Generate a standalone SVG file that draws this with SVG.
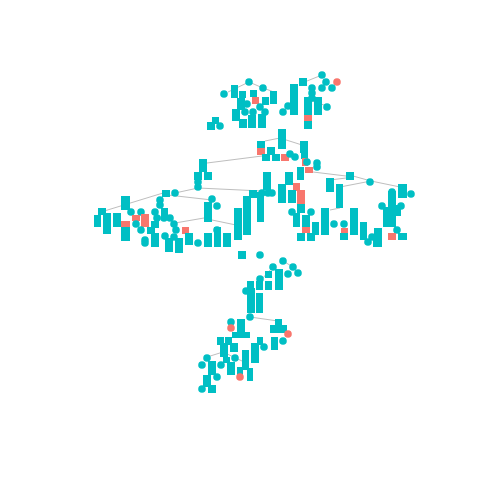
<svg xmlns="http://www.w3.org/2000/svg" width="480" height="480" viewBox="0 0 480 480">
<style>
.t{fill:#00BFC4}.s{fill:#F8766D}
#edges line{stroke:#BEBEBE;stroke-width:1}
</style>
<rect width="480" height="480" fill="#fff"/>
<g id="edges">
<line x1="228" y1="92" x2="249" y2="82"/><line x1="249" y1="82" x2="263" y2="88"/><line x1="263" y1="88" x2="274" y2="92"/>
<line x1="307" y1="81" x2="322" y2="75"/><line x1="312" y1="101" x2="327" y2="106"/>
<line x1="265" y1="141" x2="280" y2="138"/><line x1="280" y1="138" x2="302" y2="145"/>
<line x1="207" y1="163" x2="262" y2="156"/><line x1="198" y1="188" x2="262" y2="191"/><line x1="175" y1="193" x2="198" y2="188"/>
<line x1="168" y1="195" x2="212" y2="200"/><line x1="175" y1="223" x2="204" y2="218"/><line x1="212" y1="220" x2="236" y2="225"/>
<line x1="101" y1="212" x2="163" y2="193"/>
<line x1="313" y1="172" x2="346" y2="176"/><line x1="330" y1="180" x2="346" y2="178"/><line x1="353" y1="176" x2="371" y2="181"/>
<line x1="371" y1="181" x2="405" y2="188"/><line x1="340" y1="187" x2="371" y2="181"/><line x1="330" y1="210" x2="340" y2="208"/>
<line x1="260" y1="281" x2="273" y2="267"/><line x1="283" y1="261" x2="293" y2="267"/>
<line x1="250" y1="317" x2="278" y2="321"/><line x1="207" y1="357" x2="223" y2="352"/><line x1="223" y1="352" x2="242" y2="361"/>
</g>
<g id="nodes">
<g id="n1"><circle class="t" cx="249" cy="82" r="3.8"/></g>
<g id="n2"><circle class="t" cx="263" cy="88" r="3.8"/></g>
<g id="n3"><circle class="t" cx="224" cy="94" r="3.8"/></g>
<g id="n4"><rect class="t" x="231" y="85" width="7" height="13"/></g>
<g id="n5"><rect class="t" x="239" y="91" width="7" height="7"/></g>
<g id="n6"><rect class="t" x="237" y="98" width="8" height="12"/></g>
<g id="n7"><rect class="t" x="250" y="90" width="7" height="7"/></g>
<g id="n8"><rect class="s" x="252" y="97" width="7" height="7"/></g>
<g id="n9"><rect class="t" x="262" y="97" width="7" height="8"/></g>
<g id="n10"><rect class="t" x="270" y="91" width="7" height="13"/></g>
<g id="n11"><circle class="t" cx="247" cy="104" r="3.8"/></g>
<g id="n12"><circle class="t" cx="260" cy="107" r="3.8"/></g>
<g id="n13"><rect class="t" x="232" y="109" width="8" height="12"/></g>
<g id="n14"><circle class="t" cx="245" cy="112" r="3.8"/></g>
<g id="n15"><circle class="t" cx="253" cy="112" r="3.8"/></g>
<g id="n16"><circle class="t" cx="265" cy="112" r="3.8"/></g>
<g id="n17"><rect class="t" x="239" y="119" width="8" height="9"/></g>
<g id="n18"><rect class="t" x="248" y="115" width="8" height="13"/></g>
<g id="n19"><circle class="t" cx="252" cy="124" r="3.8"/></g>
<g id="n20"><rect class="t" x="258" y="114" width="8" height="14"/></g>
<g id="n21"><rect class="t" x="212" y="117" width="7" height="7"/></g>
<g id="n22"><rect class="t" x="207" y="122" width="8" height="8"/></g>
<g id="n23"><circle class="t" cx="220" cy="126" r="3.8"/></g>
<g id="n24"><circle class="t" cx="322" cy="75" r="3.8"/></g>
<g id="n25"><rect class="t" x="299" y="78" width="8" height="8"/></g>
<g id="n26"><circle class="t" cx="326" cy="82" r="3.8"/></g>
<g id="n27"><circle class="s" cx="337" cy="82" r="3.8"/></g>
<g id="n28"><circle class="t" cx="322" cy="88" r="3.8"/></g>
<g id="n29"><circle class="t" cx="332" cy="88" r="3.8"/></g>
<g id="n30"><rect class="t" x="290" y="84" width="8" height="31"/></g>
<g id="n32"><circle class="t" cx="312" cy="88" r="3.8"/></g>
<g id="n33"><circle class="t" cx="312" cy="93" r="3.8"/></g>
<g id="n34"><circle class="t" cx="312" cy="98" r="3.8"/></g>
<g id="n35"><circle class="t" cx="288" cy="106" r="3.8"/></g>
<g id="n36"><circle class="t" cx="283" cy="112" r="3.8"/></g>
<g id="n37"><rect class="t" x="304" y="97" width="8" height="18"/></g>
<g id="n38"><rect class="t" x="314" y="97" width="8" height="18"/></g>
<g id="n39"><circle class="t" cx="327" cy="107" r="3.8"/></g>
<g id="n40"><rect class="s" x="304" y="115" width="8" height="6"/></g>
<g id="n41"><rect class="t" x="304" y="121" width="8" height="8"/></g>
<g id="n42"><rect class="t" x="278" y="129" width="8" height="20"/></g>
<g id="n43"><rect class="t" x="257" y="141" width="8" height="7"/></g>
<g id="n44"><rect class="s" x="257" y="148" width="8" height="7"/></g>
<g id="n45"><rect class="t" x="267" y="147" width="8" height="8"/></g>
<g id="n46"><rect class="t" x="262" y="154" width="8" height="7"/></g>
<g id="n47"><rect class="t" x="272" y="154" width="8" height="7"/></g>
<g id="n48"><rect class="s" x="281" y="154" width="8" height="7"/></g>
<g id="n49"><circle class="t" cx="290" cy="154" r="3.8"/></g>
<g id="n50"><circle class="t" cx="295" cy="157" r="3.8"/></g>
<g id="n51"><rect class="t" x="300" y="141" width="8" height="12"/></g>
<g id="n52"><rect class="t" x="301" y="153" width="7" height="6"/></g>
<g id="n53"><rect class="s" x="302" y="158" width="6" height="8"/></g>
<g id="n54"><circle class="t" cx="307" cy="162" r="3.8"/></g>
<g id="n55"><circle class="t" cx="317" cy="163" r="3.8"/></g>
<g id="n56"><rect class="s" x="305" y="167" width="8" height="6"/></g>
<g id="n57"><rect class="t" x="297" y="167" width="7" height="13"/></g>
<g id="n58"><circle class="t" cx="317" cy="167" r="3.8"/></g>
<g id="n59"><rect class="t" x="199" y="159" width="8" height="13"/></g>
<g id="n60"><rect class="t" x="194" y="172" width="8" height="8"/></g>
<g id="n61"><rect class="t" x="204" y="172" width="8" height="8"/></g>
<g id="n62"><circle class="t" cx="198" cy="182" r="3.8"/></g>
<g id="n63"><circle class="t" cx="198" cy="187" r="3.8"/></g>
<g id="n64"><rect class="t" x="162" y="190" width="8" height="7"/></g>
<g id="n65"><circle class="t" cx="175" cy="193" r="3.8"/></g>
<g id="n66"><circle class="t" cx="212" cy="199" r="3.8"/></g>
<g id="n67"><circle class="t" cx="217" cy="206" r="3.8"/></g>
<g id="n68"><rect class="t" x="204" y="202" width="8" height="20"/></g>
<g id="n69"><rect class="t" x="161" y="208" width="7" height="8"/></g>
<g id="n70"><circle class="t" cx="170" cy="218" r="3.8"/></g>
<g id="n71"><circle class="t" cx="174" cy="224" r="3.8"/></g>
<g id="n72"><circle class="t" cx="176" cy="230" r="3.8"/></g>
<g id="n73"><rect class="s" x="182" y="227" width="7" height="7"/></g>
<g id="n74"><circle class="t" cx="217" cy="230" r="3.8"/></g>
<g id="n75"><rect class="t" x="234" y="208" width="8" height="32"/></g>
<g id="n76"><rect class="t" x="243" y="196" width="8" height="39"/></g>
<g id="n77"><rect class="t" x="249" y="190" width="8" height="8"/></g>
<g id="n78"><rect class="t" x="257" y="192" width="7" height="30"/></g>
<g id="n79"><rect class="t" x="165" y="238" width="8" height="14"/></g>
<g id="n206"><circle class="t" cx="165" cy="236" r="3.8"/></g>
<g id="n207"><circle class="t" cx="174" cy="237" r="3.8"/></g>
<g id="n80"><rect class="t" x="175" y="238" width="8" height="15"/></g>
<g id="n81"><rect class="t" x="185" y="233" width="8" height="12"/></g>
<g id="n82"><circle class="t" cx="198" cy="243" r="3.8"/></g>
<g id="n83"><rect class="t" x="204" y="233" width="8" height="14"/></g>
<g id="n84"><rect class="t" x="214" y="227" width="7" height="20"/></g>
<g id="n85"><rect class="t" x="223" y="233" width="8" height="14"/></g>
<g id="n86"><rect class="t" x="121" y="196" width="9" height="14"/></g>
<g id="n87"><rect class="t" x="98" y="208" width="8" height="7"/></g>
<g id="n88"><rect class="t" x="94" y="215" width="7" height="12"/></g>
<g id="n89"><rect class="t" x="103" y="213" width="8" height="21"/></g>
<g id="n90"><rect class="t" x="113" y="213" width="8" height="14"/></g>
<g id="n91"><rect class="s" x="121" y="221" width="9" height="6"/></g>
<g id="n92"><rect class="t" x="121" y="227" width="9" height="14"/></g>
<g id="n93"><circle class="t" cx="131" cy="212" r="3.8"/></g>
<g id="n94"><circle class="t" cx="141" cy="212" r="3.8"/></g>
<g id="n95"><rect class="s" x="132" y="215" width="8" height="6"/></g>
<g id="n96"><rect class="s" x="141" y="214" width="8" height="13"/></g>
<g id="n97"><circle class="t" cx="136" cy="224" r="3.8"/></g>
<g id="n98"><circle class="t" cx="141" cy="230" r="3.8"/></g>
<g id="n99"><circle class="t" cx="155" cy="212" r="3.8"/></g>
<g id="n100"><circle class="t" cx="160" cy="200" r="3.8"/></g>
<g id="n101"><circle class="t" cx="160" cy="205" r="3.8"/></g>
<g id="n103"><circle class="t" cx="157" cy="218" r="3.8"/></g>
<g id="n104"><circle class="t" cx="164" cy="218" r="3.8"/></g>
<g id="n106"><rect class="t" x="151" y="221" width="8" height="7"/></g>
<g id="n107"><rect class="t" x="147" y="227" width="8" height="7"/></g>
<g id="n108"><circle class="t" cx="145" cy="240" r="3.8"/></g>
<g id="n109"><circle class="t" cx="145" cy="243" r="3.8"/></g>
<g id="n110"><rect class="t" x="151" y="233" width="8" height="14"/></g>
<g id="n111"><rect class="t" x="263" y="172" width="8" height="18"/></g>
<g id="n112"><circle class="t" cx="268" cy="193" r="3.8"/></g>
<g id="n208"><circle class="t" cx="262" cy="193" r="3.8"/></g>
<g id="n209"><circle class="t" cx="272" cy="193" r="3.8"/></g>
<g id="n113"><rect class="t" x="285" y="172" width="8" height="13"/></g>
<g id="n114"><rect class="s" x="293" y="183" width="7" height="8"/></g>
<g id="n115"><rect class="s" x="297" y="190" width="8" height="14"/></g>
<g id="n210"><rect class="t" x="297" y="204" width="8" height="9"/></g>
<g id="n116"><rect class="t" x="278" y="184" width="8" height="19"/></g>
<g id="n117"><rect class="t" x="288" y="190" width="8" height="13"/></g>
<g id="n118"><circle class="t" cx="292" cy="212" r="3.8"/></g>
<g id="n121"><circle class="t" cx="311" cy="212" r="3.8"/></g>
<g id="n122"><rect class="t" x="293" y="213" width="7" height="14"/></g>
<g id="n123"><rect class="t" x="302" y="215" width="8" height="12"/></g>
<g id="n124"><rect class="s" x="302" y="227" width="8" height="6"/></g>
<g id="n125"><rect class="t" x="297" y="233" width="8" height="8"/></g>
<g id="n126"><rect class="t" x="307" y="233" width="8" height="8"/></g>
<g id="n127"><rect class="t" x="312" y="222" width="7" height="13"/></g>
<g id="n128"><rect class="t" x="346" y="172" width="8" height="8"/></g>
<g id="n129"><circle class="t" cx="370" cy="182" r="3.8"/></g>
<g id="n130"><rect class="t" x="326" y="178" width="8" height="14"/></g>
<g id="n131"><rect class="t" x="336" y="184" width="7" height="24"/></g>
<g id="n132"><rect class="t" x="398" y="184" width="9" height="14"/></g>
<g id="n133"><circle class="t" cx="411" cy="194" r="3.8"/></g>
<g id="n134"><rect class="t" x="388" y="191" width="8" height="36"/></g>
<g id="n135"><circle class="t" cx="392" cy="192" r="3.8"/></g>
<g id="n136"><circle class="t" cx="382" cy="206" r="3.8"/></g>
<g id="n137"><circle class="t" cx="401" cy="206" r="3.8"/></g>
<g id="n138"><rect class="t" x="392" y="205" width="9" height="11"/></g>
<g id="n139"><rect class="t" x="321" y="208" width="8" height="27"/></g>
<g id="n141"><rect class="t" x="350" y="208" width="8" height="27"/></g>
<g id="n142"><circle class="t" cx="334" cy="224" r="3.8"/></g>
<g id="n143"><circle class="t" cx="344" cy="224" r="3.8"/></g>
<g id="n144"><rect class="s" x="341" y="228" width="7" height="5"/></g>
<g id="n145"><rect class="t" x="340" y="233" width="8" height="7"/></g>
<g id="n146"><rect class="t" x="360" y="222" width="7" height="18"/></g>
<g id="n147"><circle class="t" cx="368" cy="242" r="3.8"/></g>
<g id="n148"><rect class="t" x="383" y="207" width="8" height="20"/></g>
<g id="n149"><circle class="t" cx="397" cy="230" r="3.8"/></g>
<g id="n150"><rect class="t" x="374" y="228" width="8" height="7"/></g>
<g id="n151"><circle class="t" cx="372" cy="237" r="3.8"/></g>
<g id="n152"><rect class="t" x="373" y="235" width="9" height="12"/></g>
<g id="n154"><rect class="s" x="388" y="233" width="8" height="7"/></g>
<g id="n155"><rect class="t" x="398" y="233" width="9" height="7"/></g>
<g id="n156"><rect class="t" x="238" y="251" width="8" height="8"/></g>
<g id="n157"><circle class="t" cx="260" cy="255" r="3.8"/></g>
<g id="n158"><circle class="t" cx="283" cy="261" r="3.8"/></g>
<g id="n159"><circle class="t" cx="273" cy="267" r="3.8"/></g>
<g id="n160"><circle class="t" cx="293" cy="267" r="3.8"/></g>
<g id="n161"><rect class="t" x="265" y="271" width="7" height="7"/></g>
<g id="n162"><rect class="t" x="275" y="269" width="8" height="21"/></g>
<g id="n163"><circle class="t" cx="288" cy="274" r="3.8"/></g>
<g id="n164"><circle class="t" cx="298" cy="273" r="3.8"/></g>
<g id="n165"><circle class="t" cx="260" cy="279" r="3.8"/></g>
<g id="n166"><rect class="t" x="256" y="281" width="7" height="9"/></g>
<g id="n167"><rect class="t" x="265" y="281" width="7" height="9"/></g>
<g id="n168"><rect class="t" x="247" y="281" width="7" height="9"/></g>
<g id="n169"><circle class="t" cx="246" cy="291" r="3.8"/></g>
<g id="n170"><rect class="t" x="247" y="288" width="8" height="25"/></g>
<g id="n171"><rect class="t" x="256" y="293" width="7" height="20"/></g>
<g id="n172"><circle class="t" cx="250" cy="317" r="3.8"/></g>
<g id="n173"><rect class="t" x="237" y="319" width="8" height="19"/></g>
<g id="n174"><circle class="t" cx="231" cy="322" r="3.8"/></g>
<g id="n175"><circle class="s" cx="231" cy="328" r="3.8"/></g>
<g id="n176"><rect class="t" x="275" y="319" width="7" height="7"/></g>
<g id="n177"><rect class="t" x="270" y="325" width="8" height="8"/></g>
<g id="n178"><rect class="t" x="278" y="325" width="9" height="8"/></g>
<g id="n179"><circle class="s" cx="288" cy="334" r="3.8"/></g>
<g id="n180"><rect class="t" x="271" y="337" width="7" height="13"/></g>
<g id="n181"><circle class="t" cx="283" cy="341" r="3.8"/></g>
<g id="n182"><rect class="t" x="232" y="332" width="8" height="6"/></g>
<g id="n183"><rect class="t" x="242" y="332" width="8" height="6"/></g>
<g id="n184"><rect class="t" x="217" y="337" width="7" height="8"/></g>
<g id="n185"><rect class="t" x="225" y="337" width="7" height="8"/></g>
<g id="n186"><rect class="t" x="257" y="337" width="6" height="8"/></g>
<g id="n187"><rect class="t" x="220" y="343" width="8" height="14"/></g>
<g id="n188"><rect class="t" x="230" y="343" width="8" height="9"/></g>
<g id="n189"><circle class="t" cx="264" cy="347" r="3.8"/></g>
<g id="n190"><rect class="t" x="251" y="343" width="8" height="20"/></g>
<g id="n191"><rect class="t" x="242" y="350" width="7" height="20"/></g>
<g id="n192"><circle class="t" cx="207" cy="358" r="3.8"/></g>
<g id="n193"><circle class="t" cx="202" cy="365" r="3.8"/></g>
<g id="n194"><circle class="t" cx="221" cy="365" r="3.8"/></g>
<g id="n195"><circle class="t" cx="235" cy="358" r="3.8"/></g>
<g id="n196"><rect class="t" x="223" y="357" width="7" height="6"/></g>
<g id="n197"><rect class="t" x="227" y="362" width="8" height="13"/></g>
<g id="n198"><rect class="t" x="208" y="361" width="8" height="14"/></g>
<g id="n199"><rect class="t" x="237" y="367" width="6" height="8"/></g>
<g id="n200"><rect class="t" x="247" y="368" width="6" height="13"/></g>
<g id="n201"><circle class="s" cx="240" cy="377" r="3.8"/></g>
<g id="n202"><circle class="t" cx="217" cy="377" r="3.8"/></g>
<g id="n203"><rect class="t" x="203" y="375" width="8" height="12"/></g>
<g id="n204"><circle class="t" cx="202" cy="389" r="3.8"/></g>
<g id="n205"><rect class="t" x="208" y="385" width="8" height="8"/></g>
</g>
</svg>
